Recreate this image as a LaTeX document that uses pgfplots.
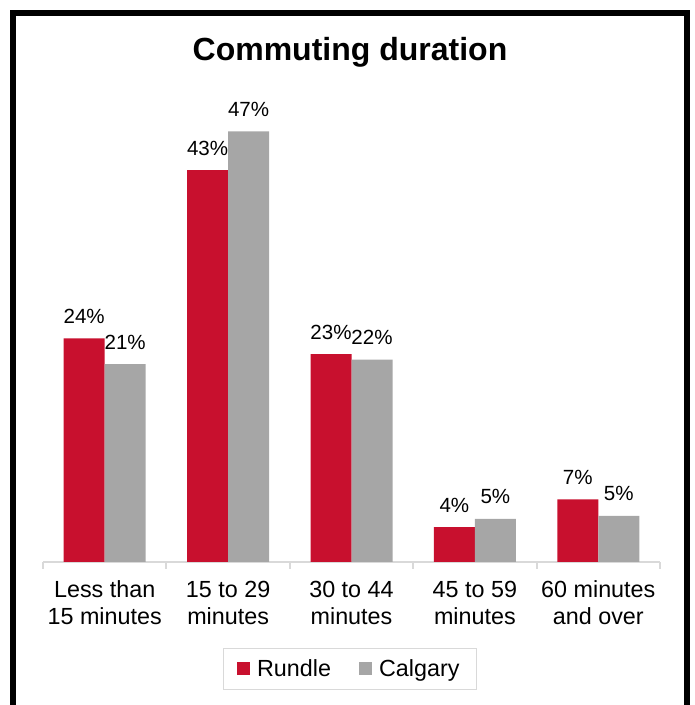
\documentclass[border=0pt]{standalone}
\usepackage{fontspec}
\setmainfont{Liberation Sans}
\usepackage{pgfplots}
\pgfplotsset{compat=1.18}
\definecolor{rred}{RGB}{200,16,46}
\definecolor{cgray}{RGB}{166,166,166}
\definecolor{axgray}{RGB}{217,217,217}
\begin{document}
\begin{tikzpicture}
\useasboundingbox (0,0) rectangle (520.5pt,528.75pt);
\draw[line width=4.5pt] (9.75pt,-6pt) rectangle (515.25pt,519pt);
\node[anchor=base, font=\fontsize{24}{28}\selectfont\bfseries] at (262.5pt,483pt) {Commuting duration};
\begin{axis}[
  at={(32.25pt,107.25pt)}, anchor=south west,
  scale only axis, width=462.75pt, height=345pt,
  xmin=-0.5, xmax=4.5, ymin=0, ymax=50,
  axis y line=none, axis x line*=bottom,
  axis line style={axgray, line width=1.5pt},
  ybar, bar width=30.75pt,
  xtick={0,1,2,3,4},
  xticklabels={{Less than\\15 minutes},{15 to 29\\minutes},{30 to 44\\minutes},{45 to 59\\minutes},{60 minutes\\and over}},
  major x tick style={draw=none}, major tick length=0pt,
  minor xtick={-0.5,0.5,1.5,2.5,3.5,4.5},
  minor tick length=5.25pt, tick align=outside,
  minor x tick style={axgray, line width=1.5pt},
  xticklabel style={font=\fontsize{17.5}{20.25}\selectfont, align=center, inner sep=0pt, anchor=north, yshift=-14pt},
  nodes near coords, point meta=explicit symbolic,
  every node near coord/.append style={font=\fontsize{15.4}{18}\selectfont, anchor=base, inner sep=0pt, yshift=11.25pt, text=black},
  legend columns=2,
  legend style={at={(0.497,-0.2326)}, anchor=center, draw=axgray, line width=0.9pt,
    font=\fontsize{17.5}{20}\selectfont, inner xsep=10.5pt, inner ysep=6pt,
    /tikz/every odd column/.append style={column sep=3pt},
    /tikz/every even column/.append style={column sep=19pt}},
  legend image code/.code={\fill[#1] (0pt,-4.5pt) rectangle (10pt,5.5pt);},
]
\addplot[fill=rred, draw=none, bar shift=-15.375pt] coordinates {
  (0,24.3) [24\%]
  (1,42.6) [43\%]
  (2,22.6) [23\%]
  (3,3.8) [4\%]
  (4,6.8) [7\%]
};
\addplot[fill=cgray, draw=none, bar shift=15.375pt] coordinates {
  (0,21.5) [21\%]
  (1,46.8) [47\%]
  (2,22.0) [22\%]
  (3,4.7) [5\%]
  (4,5.0) [5\%]
};
\legend{Rundle,Calgary}
\end{axis}
\end{tikzpicture}
\end{document}
